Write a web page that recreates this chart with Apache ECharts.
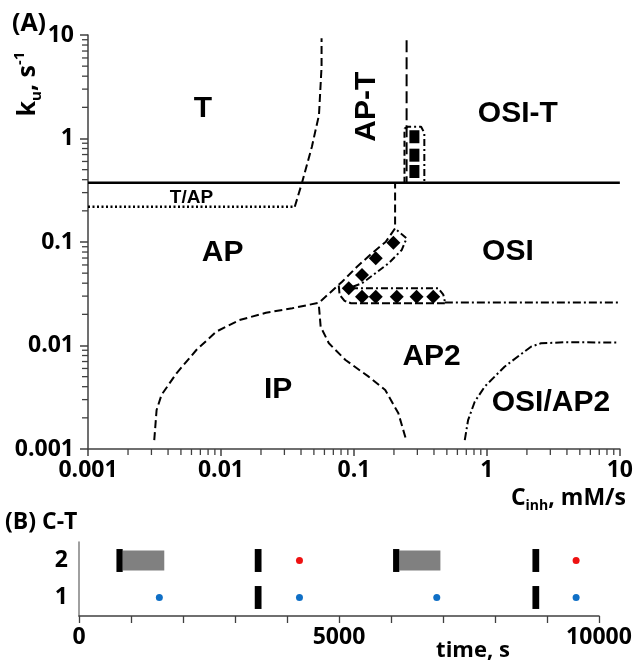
<!DOCTYPE html>
<html>
<head>
<meta charset="utf-8">
<title>C-T phase diagram</title>
<script src="https://cdn.jsdelivr.net/npm/echarts@6/dist/echarts.min.js"></script>
<style>html,body{margin:0;padding:0;background:#fff;}</style>
</head>
<body>
<div id="main" style="width:636px;height:669px;"></div>
<script type="text/javascript">
// ---- panel A : axes ----
var logTicks = ['0.001', '0.01', '0.1', '1', '10'];
var minorSteps = [2, 3, 4, 5, 6, 7, 8, 9];

// ---- panel A : boundaries, points are [C_inh, k_u] ----
var solidLine = [[0.001, 0.374], [10, 0.374]];
var tapDotted = [[0.001, 0.219], [0.0359, 0.219]];
var apTLeft = [[0.0359, 0.219], [0.0407, 0.374], [0.0483, 0.834], [0.0546, 1.69], [0.0571, 4.94], [0.0571, 9.3]];
var apTRight = [[0.249, 8.9], [0.249, 0.374]];
var apBorder = [[0.00315, 0.00122], [0.00328, 0.00238], [0.00357, 0.00333], [0.00463, 0.00539], [0.00653, 0.00905],
  [0.00921, 0.0136], [0.01376, 0.0176], [0.0218, 0.0207], [0.0344, 0.0229], [0.0546, 0.0259],
  [0.0815, 0.0413], [0.1055, 0.0577], [0.1366, 0.0778], [0.174, 0.1007], [0.204, 0.1356], [0.204, 0.372]];
var ipBorder = [[0.0546, 0.0237], [0.0562, 0.0152], [0.0648, 0.0105], [0.0864, 0.00724], [0.129, 0.005],
  [0.172, 0.00372], [0.216, 0.00221], [0.249, 0.00118]];
var osiAp2Border = [[0.682, 0.00122], [0.722, 0.0019], [0.81, 0.00286], [0.962, 0.004], [1.357, 0.00624],
  [2.146, 0.00974], [2.55, 0.0105], [3.81, 0.01074], [9.55, 0.0107]];
var osiLower = [[0.483, 0.026], [9.8, 0.026]];
var squareBoxLeft = [[0.24, 0.374], [0.24, 1.25]];
var squareBoxRest = [[0.24, 1.25], [0.257, 1.3], [0.32, 1.3], [0.3385, 1.13], [0.3385, 0.374]];
var chainBoxRight = [[0.098, 0.037], [0.115, 0.0399], [0.145, 0.0499], [0.182, 0.0622], [0.229, 0.0838], [0.249, 0.1086], [0.21, 0.1306]];
var rowBoxTop = [[0.095, 0.0357], [0.43, 0.0357], [0.47, 0.031], [0.483, 0.0265]];
var rowBoxBottom = [[0.0769, 0.038], [0.078, 0.031], [0.085, 0.027], [0.095, 0.0256], [0.483, 0.0256]];

// ---- panel A : simulated points ----
var squares = [[0.285, 1.04], [0.285, 0.69], [0.285, 0.48]];
var diamonds = [[0.0914, 0.0357], [0.115, 0.048], [0.146, 0.0697], [0.198, 0.0984],
  [0.115, 0.0296], [0.146, 0.0296], [0.21, 0.0296], [0.296, 0.0296], [0.395, 0.0296]];

// ---- panel A : region names ----
var regionNames = ['T', 'AP-T', 'OSI-T', 'T/AP', 'AP', 'OSI', 'IP', 'AP2', 'OSI/AP2'];
var regionAt = [[0.00731, 1.96], [0.125, 2.03], [1.71, 1.75], [0.006, 0.269], [0.0103, 0.0793],
  [1.44, 0.0806], [0.0269, 0.00372], [0.384, 0.0078], [3.03, 0.00277]];

// ---- panel B ----
var rows = ['1', '2'];
var timeTicks = ['0', '5000', '10000'];
var blackMarks = [[720, 840, 1], [3380, 3510, 1], [6040, 6160, 1], [8720, 8850, 1], [3380, 3510, 0], [8720, 8850, 0]];
var grayBlocks = [[840, 1640, 1], [6160, 6950, 1]];
var redDots = [[4240, 1], [9560, 1]];
var blueDots = [[1545, 0], [4240, 0], [6880, 0], [9560, 0]];

var axisColor = '#404040';
var tickFont = {fontFamily: 'Open Sans', fontWeight: 'bold', fontSize: 23, color: '#000'};
var regionFont = 'Liberation Sans';

var myChart = echarts.init(document.getElementById('main'));

function boundary(pts, type, width) {
  return {
    type: 'line', xAxisIndex: 0, yAxisIndex: 0, data: pts, symbol: 'none', silent: true,
    lineStyle: {color: '#000', width: width || 2, type: type}, z: 3
  };
}

// minor ticks of the log axes (2..9 in each decade)
var minorX = [], minorY = [];
for (var d = 0; d < logTicks.length - 1; d++) {
  for (var m = 0; m < minorSteps.length; m++) {
    var v = minorSteps[m] * parseFloat(logTicks[d]);
    minorX.push([v, 0.001]);
    minorY.push([0.001, v]);
  }
}

function minorTick(horizontal) {
  return function (params, api) {
    var p = api.coord([api.value(0), api.value(1)]);
    var shape = horizontal
      ? {x1: p[0], y1: p[1], x2: p[0], y2: p[1] + 6}
      : {x1: p[0], y1: p[1], x2: p[0] - 6, y2: p[1]};
    return {type: 'line', shape: shape, style: {stroke: axisColor, lineWidth: 1.3}};
  };
}

function timeBar(frac, color) {
  return function (params, api) {
    var a = api.coord([api.value(0), api.value(2)]);
    var b = api.coord([api.value(1), api.value(2)]);
    var h = api.size([0, 1])[1] * frac;
    return {type: 'rect', shape: {x: a[0], y: a[1] - h / 2, width: b[0] - a[0], height: h}, style: {fill: color}};
  };
}

var logLabel = function (v) { return logTicks[Math.round(Math.log10(v)) + 3]; };

option = {
  backgroundColor: '#fff',
  animation: false,
  grid: [
    {left: 88, top: 35, width: 535, height: 414},
    {left: 79, top: 542, width: 520, height: 74}
  ],
  xAxis: [{
    type: 'log', logBase: 10, min: 0.001, max: 10, splitNumber: 4, gridIndex: 0,
    axisLine: {show: true, lineStyle: {color: axisColor, width: 1.5}},
    axisTick: {show: true, length: 7, lineStyle: {color: axisColor, width: 1.5}},
    axisLabel: Object.assign({margin: 10, formatter: logLabel}, tickFont),
    splitLine: {show: false}
  }, {
    type: 'value', min: 0, max: 10000, interval: 1000, gridIndex: 1,
    axisLine: {show: true, lineStyle: {color: axisColor, width: 1.5}},
    axisTick: {show: true, length: 7, lineStyle: {color: axisColor, width: 1.3}},
    axisLabel: Object.assign({margin: 10, formatter: function (v) { return timeTicks.indexOf(String(v)) >= 0 ? String(v) : ''; }}, tickFont),
    splitLine: {show: false}
  }],
  yAxis: [{
    type: 'log', logBase: 10, min: 0.001, max: 10, splitNumber: 4, gridIndex: 0,
    axisLine: {show: true, lineStyle: {color: axisColor, width: 1.5}},
    axisTick: {show: true, length: 8, lineStyle: {color: axisColor, width: 1.5}},
    axisLabel: Object.assign({margin: 14, formatter: logLabel}, tickFont),
    splitLine: {show: false}
  }, {
    type: 'category', data: rows, gridIndex: 1,
    axisLine: {show: true, lineStyle: {color: '#808080', width: 1.5}},
    axisTick: {show: false},
    axisLabel: Object.assign({margin: 11}, tickFont)
  }],
  graphic: [
    {type: 'text', x: 29, y: 24, style: {text: '(A)', font: 'bold 25px "Open Sans"', fill: '#000', align: 'center', verticalAlign: 'middle'}},
    {type: 'text', x: 5, y: 522, style: {text: '(B) C-T', font: 'bold 23px "Open Sans"', fill: '#000', align: 'left', verticalAlign: 'middle'}},
    {type: 'text', x: 473, y: 651, style: {text: 'time, s', font: 'bold 22px "Open Sans"', fill: '#000', align: 'center', verticalAlign: 'middle'}},
    {type: 'text', x: 28, y: 84, rotation: Math.PI / 2, style: {
      text: '{m|k}{sub|u}{m|, s}{sup|-1}', align: 'center', verticalAlign: 'middle',
      rich: {
        m: {fontFamily: 'Open Sans', fontWeight: 'bold', fontSize: 25, lineHeight: 32, color: '#000'},
        sub: {fontFamily: 'Open Sans', fontWeight: 'bold', fontSize: 15, lineHeight: 16, verticalAlign: 'bottom', color: '#000'},
        sup: {fontFamily: 'Open Sans', fontWeight: 'bold', fontSize: 15, lineHeight: 16, verticalAlign: 'top', color: '#000'}
      }
    }},
    {type: 'text', x: 626, y: 498, style: {
      text: '{m|C}{sub|inh}{m|, mM/s}', align: 'right', verticalAlign: 'middle',
      rich: {
        m: {fontFamily: 'Open Sans', fontWeight: 'bold', fontSize: 23, lineHeight: 30, color: '#000'},
        sub: {fontFamily: 'Open Sans', fontWeight: 'bold', fontSize: 14, lineHeight: 15, verticalAlign: 'bottom', color: '#000'}
      }
    }}
  ],
  series: [
    boundary(solidLine, 'solid', 2.5),
    boundary(tapDotted, [2, 2.5], 2.5),
    boundary(apTLeft, [8, 4], 2),
    boundary(apTRight, [12, 5], 2),
    boundary(apBorder, [8, 4], 2),
    boundary(ipBorder, [8, 4], 2),
    boundary(osiAp2Border, [8, 3, 2, 3], 2),
    boundary(osiLower, [8, 3, 2, 3], 2),
    boundary(squareBoxLeft, [6, 3], 2),
    boundary(squareBoxRest, [7, 3, 2, 3], 2),
    boundary(chainBoxRight, [7, 3, 2, 3], 2),
    boundary(rowBoxTop, [7, 3, 2, 3], 2),
    boundary(rowBoxBottom, [8, 3], 2),
    {
      type: 'scatter', xAxisIndex: 0, yAxisIndex: 0, data: squares, symbol: 'rect', symbolSize: [10, 13],
      itemStyle: {color: '#000', opacity: 1}, z: 5, silent: true
    },
    {
      type: 'scatter', xAxisIndex: 0, yAxisIndex: 0, data: diamonds, symbol: 'diamond', symbolSize: 14,
      itemStyle: {color: '#000', opacity: 1}, z: 5, silent: true
    },
    {
      type: 'scatter', xAxisIndex: 0, yAxisIndex: 0, symbolSize: 0, silent: true, z: 6,
      itemStyle: {opacity: 1},
      data: regionNames.map(function (n, i) {
        return {
          name: n, value: regionAt[i],
          label: n === 'AP-T' ? {rotate: 90} : (n === 'T/AP' ? {fontSize: 19} : {})
        };
      }),
      label: {
        show: true, position: 'inside', formatter: '{b}', color: '#000', opacity: 1,
        fontFamily: regionFont, fontWeight: 'bold', fontSize: 30
      }
    },
    {
      type: 'custom', xAxisIndex: 0, yAxisIndex: 0, data: minorX, renderItem: minorTick(true), silent: true, clip: false, z: 4
    },
    {
      type: 'custom', xAxisIndex: 0, yAxisIndex: 0, data: minorY, renderItem: minorTick(false), silent: true, clip: false, z: 4
    },
    {
      type: 'custom', xAxisIndex: 1, yAxisIndex: 1, data: grayBlocks, renderItem: timeBar(0.54, '#808080'),
      encode: {x: [0, 1], y: 2}, silent: true, z: 3
    },
    {
      type: 'custom', xAxisIndex: 1, yAxisIndex: 1, data: blackMarks, renderItem: timeBar(0.62, '#000'),
      encode: {x: [0, 1], y: 2}, silent: true, z: 4
    },
    {
      type: 'scatter', xAxisIndex: 1, yAxisIndex: 1, data: redDots, symbolSize: 7,
      itemStyle: {color: '#ee1111', opacity: 1}, silent: true
    },
    {
      type: 'scatter', xAxisIndex: 1, yAxisIndex: 1, data: blueDots, symbolSize: 7,
      itemStyle: {color: '#0f6fc6', opacity: 1}, silent: true
    }
  ]
};

myChart.setOption(option);
</script>
</body>
</html>
